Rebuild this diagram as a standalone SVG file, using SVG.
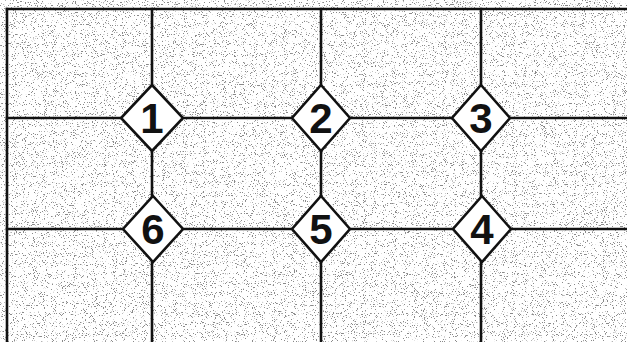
<svg xmlns="http://www.w3.org/2000/svg" width="627" height="342" viewBox="0 0 627 342">
  <defs>
    <filter id="speckle" x="0" y="0" width="100%" height="100%" filterUnits="userSpaceOnUse">
      <feTurbulence type="fractalNoise" baseFrequency="0.9" numOctaves="2" seed="7" result="n"/>
      <feColorMatrix in="n" type="matrix" values="0 0 0 0 0.25  0 0 0 0 0.25  0 0 0 0 0.25  -14 0 0 0 5.3"/>
    </filter>
    <style>
      .grid { stroke: #111; stroke-width: 2.6; fill: none; stroke-linecap: square; }
      .dia { fill: #ffffff; stroke: #111; stroke-width: 2.6; stroke-linejoin: miter; }
      .lbl { font-family: "Liberation Sans", Arial, sans-serif; font-weight: bold; font-size: 42px; fill: #111; text-anchor: middle; }
    </style>
  </defs>

  <rect x="0" y="0" width="627" height="342" fill="#ffffff"/>
  <rect x="7" y="9" width="620" height="333" fill="#ffffff" filter="url(#speckle)"/>

  <g id="connectors">
    <line class="grid" x1="7" y1="9" x2="627" y2="9"/>
    <line class="grid" x1="7" y1="9" x2="7" y2="342"/>
    <line class="grid" x1="152" y1="9" x2="152" y2="342"/>
    <line class="grid" x1="321" y1="9" x2="321" y2="342"/>
    <line class="grid" x1="481" y1="9" x2="481" y2="342"/>
    <line class="grid" x1="7" y1="118" x2="627" y2="118"/>
    <line class="grid" x1="7" y1="229" x2="627" y2="229"/>
  </g>

  <g id="node1">
    <polygon class="dia" points="152,85 183,118 152,151 121,118"/>
    <text class="lbl" x="152" y="133">1</text>
  </g>
  <g id="node2">
    <polygon class="dia" points="321,85 350,118 321,151 292,118"/>
    <text class="lbl" x="321" y="133">2</text>
  </g>
  <g id="node3">
    <polygon class="dia" points="481,85 510,118 481,151 452,118"/>
    <text class="lbl" x="481" y="133">3</text>
  </g>
  <g id="node4">
    <polygon class="dia" points="482,196 511,229 482,262 453,229"/>
    <text class="lbl" x="482" y="244">4</text>
  </g>
  <g id="node5">
    <polygon class="dia" points="321,196 350,229 321,262 292,229"/>
    <text class="lbl" x="321" y="244">5</text>
  </g>
  <g id="node6">
    <polygon class="dia" points="153,196 183,229 153,262 123,229"/>
    <text class="lbl" x="153" y="244">6</text>
  </g>
</svg>
